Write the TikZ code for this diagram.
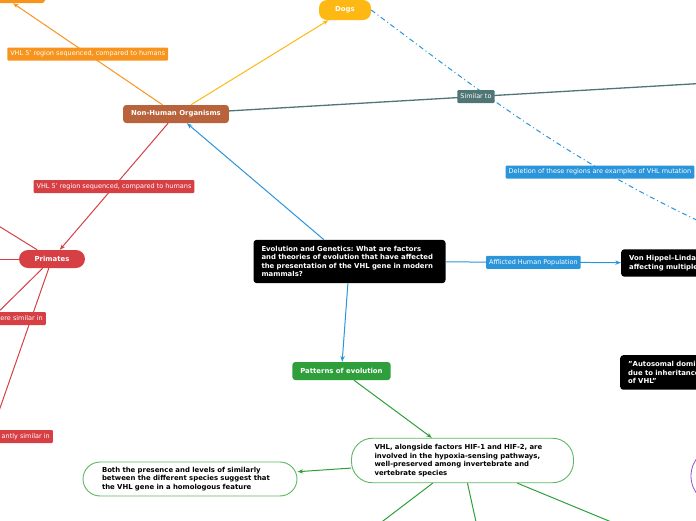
\documentclass[tikz,border=0pt]{standalone}
\usepackage{fontspec}
\setmainfont{DejaVu Sans}
\usepackage{xcolor}
\usepackage{tikz}
\usetikzlibrary{arrows.meta,positioning,shapes.geometric,calc}
\frenchspacing

\definecolor{mmorange}{HTML}{F7941D}
\definecolor{mmbrown}{HTML}{B8633B}
\definecolor{mmyellow}{HTML}{FDB813}
\definecolor{mmteal}{HTML}{4F7574}
\definecolor{mmred}{HTML}{D64045}
\definecolor{mmblue}{HTML}{2A95DA}
\definecolor{mmgreen}{HTML}{2E9F3A}
\definecolor{mmgreenl}{HTML}{5DB862}
\definecolor{mmpurple}{HTML}{9B4DCA}

\begin{document}
\begin{tikzpicture}[
  x=1pt, y=-1pt,
  topic/.style={rounded corners=3pt, text=white, font=\bfseries\fontsize{6.9}{8.6}\selectfont, inner xsep=8pt, inner ysep=0pt, minimum height=18pt},
  leaf/.style={draw=mmgreenl, line width=0.9pt, fill=white, text=black, font=\bfseries\fontsize{6.9}{8.6}\selectfont, align=left, text width=176pt},
  lbl/.style={rounded corners=1pt, text=white, font=\fontsize{6.5}{7}\selectfont, inner xsep=3pt, inner ysep=0pt, minimum height=13pt},
  arrow/.style={-{Stealth[length=2mm]}, line width=1pt},
  plain/.style={line width=1pt},
  dashdot/.style={line width=1pt, dash pattern=on 5pt off 3pt on 1pt off 3pt},
]
\useasboundingbox (0,0) rectangle (696,520);
\clip (0,0) rectangle (696,520);

% ends of branches that run off the page
\coordinate (offr) at (760,80);
\coordinate (offd) at (740,240);
\coordinate (offa) at (-40,202);
\coordinate (offb) at (-40,259);
\coordinate (offc) at (-20,330);
\coordinate (offe) at (-8,431);
\coordinate (offg1) at (358,540);
\coordinate (offg2) at (480,540);
\coordinate (offg3) at (655,540);

% topics
\node[topic, fill=mmorange, minimum width=100pt, minimum height=24pt] (anc) at (-5,-9) {};
\node[topic, fill=mmbrown] (non) at (176,114) {Non-Human Organisms};
\node[topic, fill=mmyellow, rounded corners=8pt, minimum width=52pt, minimum height=20pt] (dogs) at (345,10) {Dogs};
\node[topic, fill=mmred, rounded corners=9pt, minimum width=66pt] (prim) at (52,259) {Primates};
\node[topic, fill=black, text width=176pt, align=left, inner ysep=6pt] (cen) at (349.5,261.5) {Evolution and Genetics: What are factors\\and theories of evolution that have affected\\the presentation of the VHL gene in modern\\mammals?};
\node[topic, fill=black, text width=170pt, align=left, inner ysep=6pt, anchor=west] (vh) at (621,263) {Von Hippel--Linda\\affecting multiple};
\node[topic, fill=black, text width=170pt, align=left, inner ysep=6pt, anchor=north west] (auto) at (620,355) {"Autosomal domi\\due to inheritance\\of VHL"};
\node[topic, fill=mmgreen] (pat) at (341.5,371) {Patterns of evolution};
\node[leaf, rounded corners=21pt, inner xsep=23pt, inner ysep=6pt] (vhl) at (462.5,460.5) {VHL, alongside factors HIF-1 and HIF-2, are\\involved in the hypoxia-sensing pathways,\\well-preserved among invertebrate and\\vertebrate species};
\node[leaf, rounded corners=17pt, inner xsep=19pt, inner ysep=5pt] (both) at (190,479) {Both the presence and levels of similarly\\between the different species suggest that\\the VHL gene in a homologous feature};
\node[circle, draw=mmpurple, line width=0.8pt, minimum size=60pt] (purp) at (721,476) {};

% connectors
\draw[dashdot, mmblue] (dogs.east) to[out=-37, in=156] (offd);
\node[lbl, fill=mmblue] (ldel) at (600,172) {Deletion of these regions are examples of VHL mutation};
\draw[arrow, mmorange] (non) -- node[lbl, fill=mmorange, pos=0.5] (lorg) {VHL 5' region sequenced, compared to humans} (anc);
\draw[arrow, mmyellow] (non) -- (dogs);
\draw[plain, mmteal, line width=1.3pt] (non) -- node[lbl, fill=mmteal, pos=0.465] (lsim) {Similar to} (offr);
\draw[arrow, mmred] (non) -- node[lbl, fill=mmred, pos=0.5] (lred) {VHL 5' region sequenced, compared to humans} (prim);
\draw[plain, mmred] (prim) -- (offa);
\draw[plain, mmred] (prim) -- (offb);
\draw[plain, mmred] (prim) -- (offc);
\draw[plain, mmred] (prim) -- (offe);
\node[lbl, fill=mmred, anchor=east] (lwere) at (46,318.5) {ere similar in};
\node[lbl, fill=mmred, anchor=east] (lsig) at (53,436.5) {antly similar in};
\draw[arrow, mmblue] (cen) -- (non);
\draw[arrow, mmblue] (cen) -- node[lbl, fill=mmblue] (laff) {Afflicted Human Population} (vh);
\draw[arrow, mmblue] (cen) -- (pat);
\draw[arrow, mmgreen] (pat) -- (vhl);
\draw[arrow, mmgreen] (vhl) -- (both);
\draw[plain, mmgreen] (vhl) -- (offg1);
\draw[plain, mmgreen] (vhl) -- (offg2);
\draw[plain, mmgreen] (vhl) -- (offg3);

\end{tikzpicture}
\end{document}
